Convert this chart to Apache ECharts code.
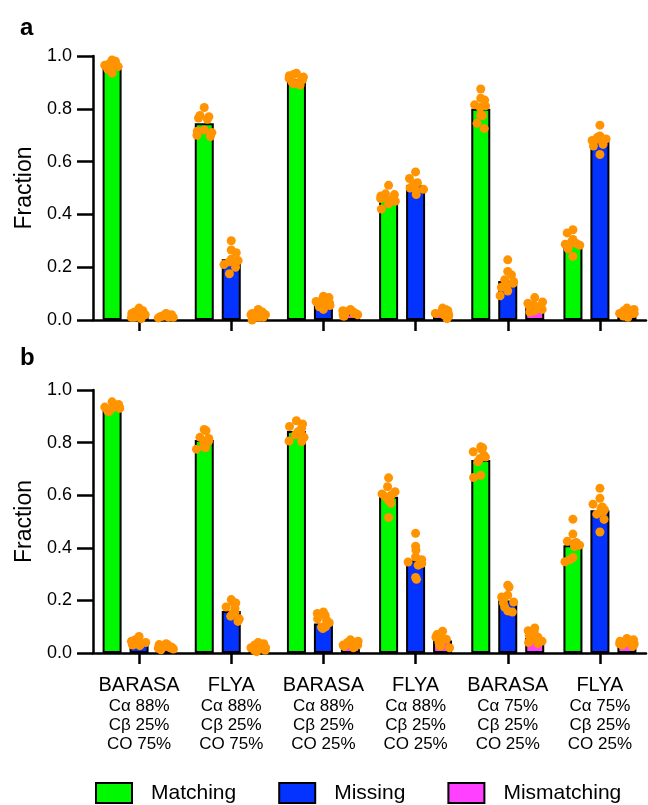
<!DOCTYPE html>
<html><head><meta charset="utf-8">
<script src="https://cdn.jsdelivr.net/npm/echarts@6.0.0/dist/echarts.min.js"></script>
<style>html,body{margin:0;padding:0;background:#fff}#c{width:648px;height:805px}</style>
</head><body><div id="c"></div>
<script>
// ---------- data ----------
const methods = ['BARASA','FLYA','BARASA','FLYA','BARASA','FLYA'];
const caPct = ['88%','88%','88%','88%','75%','75%'];
const cbPct = ['25%','25%','25%','25%','25%','25%'];
const coPct = ['75%','75%','25%','25%','25%','25%'];
const seriesNames = ['Matching','Missing','Mismatching'];
const yTicks = [0, 0.2, 0.4, 0.6, 0.8, 1.0];

// panel a: bar heights (means)
const aMatching = [0.965, 0.745, 0.912, 0.46, 0.80, 0.29];
const aMissing = [0.02, 0.23, 0.055, 0.51, 0.148, 0.677];
const aMismatching = [0.015, 0.02, 0.025, 0.03, 0.05, 0.03];
// panel a: individual points per group
const aMatchingPts = [
  [0.985,0.98,0.975,0.97,0.97,0.965,0.96,0.955,0.95,0.935],
  [0.805,0.775,0.77,0.765,0.76,0.72,0.715,0.71,0.70,0.695],
  [0.935,0.93,0.925,0.92,0.915,0.91,0.905,0.90,0.895,0.89],
  [0.51,0.478,0.475,0.47,0.465,0.46,0.455,0.45,0.44,0.42],
  [0.875,0.84,0.833,0.815,0.811,0.805,0.776,0.774,0.745,0.725],
  [0.342,0.33,0.305,0.298,0.29,0.287,0.283,0.28,0.27,0.241]
];
const aMissingPts = [
  [0.045,0.035,0.03,0.025,0.02,0.02,0.015,0.01,0.01,0.005],
  [0.30,0.265,0.255,0.23,0.225,0.22,0.215,0.21,0.20,0.175],
  [0.09,0.085,0.08,0.075,0.07,0.065,0.06,0.055,0.05,0.04],
  [0.561,0.536,0.52,0.515,0.51,0.505,0.50,0.495,0.49,0.475],
  [0.228,0.184,0.171,0.152,0.146,0.139,0.13,0.124,0.11,0.092],
  [0.738,0.697,0.692,0.69,0.686,0.684,0.68,0.665,0.659,0.627]
];
const aMismatchingPts = [
  [0.025,0.02,0.02,0.018,0.015,0.015,0.012,0.01,0.01,0.008],
  [0.04,0.03,0.025,0.02,0.02,0.015,0.01,0.01,0.005,0.0],
  [0.04,0.035,0.03,0.03,0.025,0.025,0.02,0.02,0.015,0.015],
  [0.045,0.04,0.035,0.03,0.03,0.025,0.02,0.02,0.015,0.005],
  [0.085,0.068,0.063,0.058,0.053,0.05,0.045,0.04,0.035,0.03],
  [0.045,0.04,0.035,0.03,0.03,0.025,0.025,0.02,0.015,0.01]
];

// panel b
const bMatching = [0.934, 0.81, 0.844, 0.594, 0.734, 0.41];
const bMissing = [0.036, 0.16, 0.112, 0.353, 0.20, 0.543];
const bMismatching = [0.025, 0.02, 0.036, 0.048, 0.058, 0.035];
const bMatchingPts = [
  [0.955,0.945,0.94,0.935,0.935,0.93,0.93,0.925,0.92,0.918],
  [0.85,0.845,0.82,0.816,0.81,0.805,0.80,0.784,0.78,0.775],
  [0.883,0.871,0.861,0.855,0.841,0.835,0.83,0.82,0.806,0.804],
  [0.666,0.632,0.613,0.605,0.60,0.595,0.588,0.58,0.569,0.515],
  [0.784,0.78,0.774,0.765,0.752,0.745,0.74,0.727,0.676,0.667],
  [0.509,0.452,0.425,0.42,0.416,0.41,0.405,0.363,0.355,0.347]
];
const bMissingPts = [
  [0.063,0.05,0.045,0.04,0.04,0.038,0.035,0.033,0.03,0.028],
  [0.203,0.195,0.19,0.175,0.17,0.156,0.15,0.14,0.13,0.12],
  [0.156,0.15,0.143,0.13,0.124,0.115,0.11,0.10,0.099,0.093],
  [0.455,0.406,0.391,0.365,0.355,0.346,0.34,0.334,0.287,0.28],
  [0.258,0.251,0.22,0.213,0.205,0.194,0.19,0.175,0.16,0.156],
  [0.626,0.588,0.566,0.555,0.55,0.545,0.537,0.528,0.508,0.46]
];
const bMismatchingPts = [
  [0.035,0.032,0.03,0.028,0.025,0.022,0.02,0.018,0.015,0.012],
  [0.04,0.035,0.03,0.025,0.02,0.02,0.015,0.01,0.01,0.005],
  [0.05,0.045,0.042,0.04,0.038,0.035,0.03,0.03,0.025,0.02],
  [0.083,0.075,0.07,0.06,0.052,0.046,0.04,0.03,0.026,0.02],
  [0.095,0.085,0.08,0.068,0.06,0.055,0.05,0.045,0.04,0.036],
  [0.055,0.05,0.045,0.04,0.04,0.035,0.035,0.03,0.03,0.025]
];

// ---------- styling ----------
const FONT = '"Liberation Sans", Arial, Helvetica, sans-serif';
const COLORS = ['#00f900', '#0433ff', '#ff40ff'];
const DOT = '#ff9300';
const categories = methods.map((m, i) => i);

const panels = [
  {top: 56, height: 264, bars: [aMatching, aMissing, aMismatching], pts: [aMatchingPts, aMissingPts, aMismatchingPts], labels: false},
  {top: 390, height: 263, bars: [bMatching, bMissing, bMismatching], pts: [bMatchingPts, bMissingPts, bMismatchingPts], labels: true}
];
const GL = 93, GW = 553, OFF = 27;
const dotOffsets = [-OFF, 0, OFF];

const grid = [], xAxis = [], yAxis = [], series = [];
panels.forEach((p, pi) => {
  // main grid (visible axes) + two identical hidden grids so each dot series has its own jitter axis
  [0, 1, 2].forEach(k => {
    const gi = grid.length;
    grid.push({left: GL, top: p.top, width: GW, height: p.height});
    const visible = (k === 0);
    xAxis.push({
      type: 'category', gridIndex: gi, data: categories,
      show: visible, jitter: 16, jitterOverlap: false, jitterMargin: 0,
      axisLine: {show: true, lineStyle: {color: '#000', width: 2.5}},
      axisTick: {show: true, alignWithLabel: true, length: 11, lineStyle: {color: '#000', width: 2.5}},
      axisLabel: p.labels ? {
        show: true, margin: 20, interval: 0,
        formatter: (v, i) => '{m|' + methods[i] + '}\n{s|Cα ' + caPct[i] + '}\n{s|Cβ ' + cbPct[i] + '}\n{s|CO ' + coPct[i] + '}',
        rich: {
          m: {fontFamily: FONT, fontSize: 20, lineHeight: 24, color: '#000'},
          s: {fontFamily: FONT, fontSize: 17, lineHeight: 19, color: '#000'}
        }
      } : {show: false}
    });
    yAxis.push({
      type: 'value', gridIndex: gi, min: 0, max: 1, interval: 0.2, show: visible,
      name: 'Fraction', nameLocation: 'middle', nameGap: 57, nameMoveOverlap: false,
      nameTextStyle: {fontFamily: FONT, fontSize: 23, color: '#000'},
      axisLine: {show: true, lineStyle: {color: '#000', width: 2.5}},
      axisTick: {show: true, length: 16, lineStyle: {color: '#000', width: 2.5}},
      axisLabel: {fontFamily: FONT, fontSize: 18, color: '#000', margin: 21, formatter: v => v.toFixed(1)},
      splitLine: {show: false}
    });
  });
  const base = pi * 3;
  seriesNames.forEach((name, si) => {
    series.push({
      name, type: 'bar', xAxisIndex: base, yAxisIndex: base,
      data: p.bars[si], barWidth: 19, barGap: '42%',
      itemStyle: {color: COLORS[si], borderColor: '#000', borderWidth: 2},
      z: 2, silent: true
    });
  });
  seriesNames.forEach((name, si) => {
    const d = [];
    p.pts[si].forEach((arr, gi) => arr.forEach(v => d.push([gi, v])));
    series.push({
      name: name + ' pts', type: 'scatter', xAxisIndex: base + si, yAxisIndex: base + si,
      data: d, symbol: 'circle', symbolSize: 9, symbolOffset: [dotOffsets[si], 0],
      itemStyle: {color: DOT, opacity: 1}, z: 5, silent: true
    });
  });
});

const option = {
  animation: false,
  backgroundColor: '#fff',
  textStyle: {fontFamily: FONT},
  title: [
    {text: 'a', left: 15, top: 11, textStyle: {fontFamily: FONT, fontSize: 24, fontWeight: 'bold', color: '#000'}},
    {text: 'b', left: 15, top: 341, textStyle: {fontFamily: FONT, fontSize: 24, fontWeight: 'bold', color: '#000'}}
  ],
  legend: {
    data: seriesNames, left: 95, top: 782, orient: 'horizontal', padding: 0,
    icon: 'rect', itemWidth: 36, itemHeight: 20, itemGap: 42,
    textStyle: {fontFamily: FONT, fontSize: 21, color: '#000', padding: [0, 0, 0, 14]},
    selectedMode: false
  },
  grid, xAxis, yAxis, series
};
const chart = echarts.init(document.getElementById('c'), null, {renderer: 'canvas'});
chart.setOption(option);
</script>
</body></html>
